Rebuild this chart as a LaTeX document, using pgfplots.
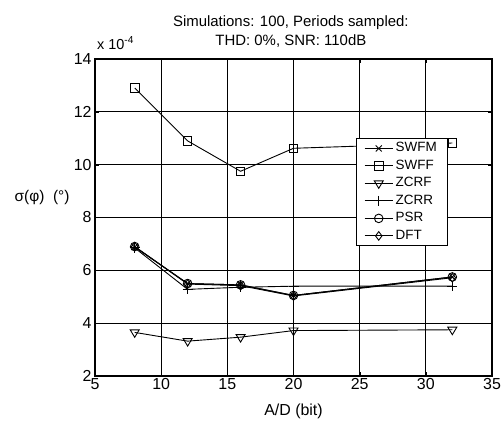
\documentclass[border=0pt]{standalone}
\usepackage{fontspec}
\setmainfont{Liberation Sans}
\usepackage{pgfplots}
\pgfplotsset{compat=1.18}
% open triangle pointing down
\pgfdeclareplotmark{tridown}{%
  \pgfpathmoveto{\pgfqpoint{0pt}{-1.15\pgfplotmarksize}}%
  \pgfpathlineto{\pgfqpoint{1.05\pgfplotmarksize}{0.6\pgfplotmarksize}}%
  \pgfpathlineto{\pgfqpoint{-1.05\pgfplotmarksize}{0.6\pgfplotmarksize}}%
  \pgfpathclose
  \pgfusepathqstroke}

\begin{document}
\begin{tikzpicture}[x=1bp,y=1bp]
\useasboundingbox (0,0) rectangle (501,420);
\begin{axis}[
    at={(95bp,44bp)}, anchor=south west,
    scale only axis,
    width=397bp, height=317bp,
    xmin=5, xmax=35, ymin=2, ymax=14,
    xtick={5,10,...,35}, ytick={2,4,...,14},
    grid=major,
    major grid style={black, line width=0.8bp},
    axis line style={line width=1.4bp},
    tick style={black},
    tick align=inside,
    /pgf/number format/assume math mode=true,
    ticklabel style={font=\fontsize{16}{18}\selectfont},
    xticklabel style={yshift=1bp},
    xlabel={A/D (bit)},
    xlabel style={font=\fontsize{16}{18}\selectfont, yshift=-7bp},
    ylabel={σ(φ)\ \ (°)},
    ylabel style={font=\fontsize{15.5}{17}\selectfont, rotate=-90, at={(axis cs:5,8.77)}, anchor=east, xshift=-22bp},
    every axis plot/.append style={black, line width=0.9bp, mark size=4.3bp},
    legend style={at={(axis cs:31.65,11.0)}, anchor=north east,
        font=\fontsize{13.5}{15}\selectfont, draw=black, line width=0.8bp,
        row sep=0pt, inner xsep=8bp, inner ysep=1bp,
        nodes={text height=9.5bp, text depth=3bp, inner sep=2.5bp}},
    legend cell align=left,
    legend image code/.code={\draw[mark repeat=2, mark phase=2] plot coordinates {(0bp,0bp) (14bp,0bp) (28bp,0bp)};},
    legend image post style={mark options={line width=0.9bp}},
    clip=false,
]
\addplot[mark=x] coordinates {(8,6.88) (12,5.50) (16,5.45) (20,5.05) (32,5.75)};
\addlegendentry{SWFM}
\addplot[mark=square] coordinates {(8,12.90) (12,10.90) (16,9.75) (20,10.62) (32,10.82)};
\addlegendentry{SWFF}
\addplot[mark=tridown] coordinates {(8,3.65) (12,3.32) (16,3.47) (20,3.72) (32,3.75)};
\addlegendentry{ZCRF}
\addplot[mark=+, mark size=5bp] coordinates {(8,6.85) (12,5.28) (16,5.36) (20,5.40) (32,5.40)};
\addlegendentry{ZCRR}
\addplot[mark=o] coordinates {(8,6.90) (12,5.50) (16,5.45) (20,5.05) (32,5.75)};
\addlegendentry{PSR}
\addplot[mark=diamond] coordinates {(8,6.90) (12,5.48) (16,5.42) (20,5.03) (32,5.72)};
\addlegendentry{DFT}
\node[anchor=west, font=\fontsize{14.5}{16}\selectfont, inner sep=0bp] at ([yshift=16bp]axis cs:5.15,14) {x 10\textsuperscript{-4}};
\node[font=\fontsize{15}{19}\selectfont, align=center, inner sep=0pt] at ([yshift=27bp]axis cs:19.8,14) {Simulations: 100, Periods sampled:\\THD: 0\%, SNR: 110dB};
\end{axis}
\end{tikzpicture}
\end{document}
